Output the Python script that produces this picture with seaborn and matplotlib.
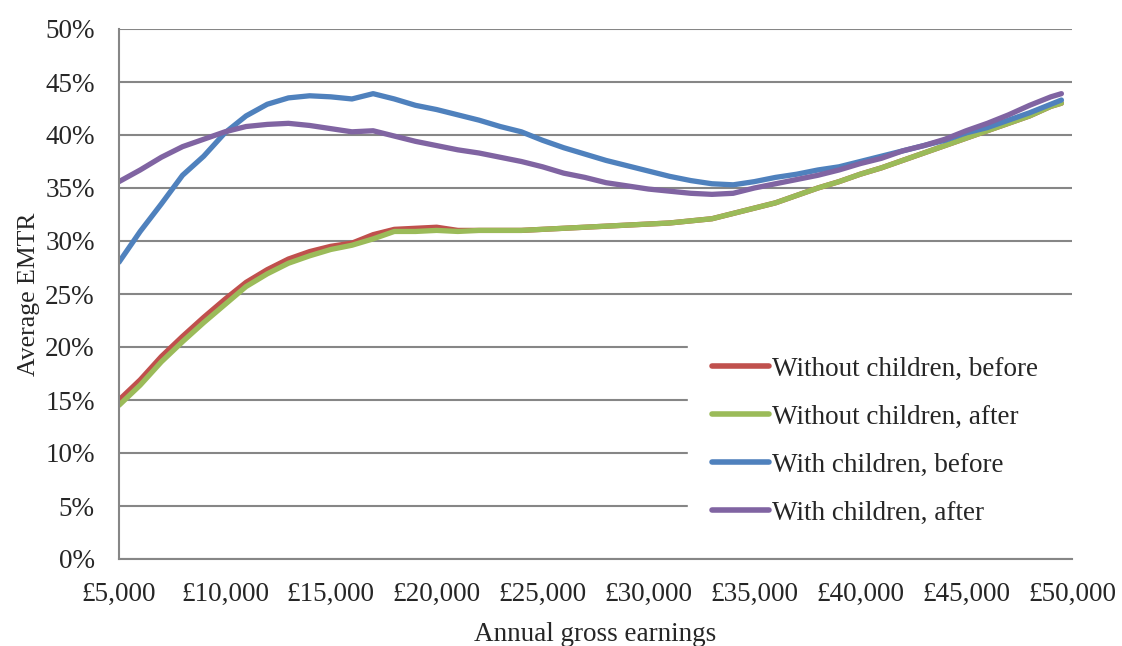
import numpy as np
import pandas as pd
import matplotlib
matplotlib.use('Agg')
import matplotlib.pyplot as plt
import matplotlib.ticker as mticker
import seaborn as sns

# ── Data ──────────────────────────────────────────────────────────
earnings = [5000, 6000, 7000, 8000, 9000, 10000, 11000, 12000, 13000, 14000,
            15000, 16000, 17000, 18000, 19000, 20000, 21000, 22000, 23000, 24000,
            25000, 26000, 27000, 28000, 29000, 30000, 31000, 32000, 33000, 34000,
            35000, 36000, 37000, 38000, 39000, 40000, 41000, 42000, 43000, 44000,
            45000, 46000, 47000, 48000, 49000, 49500]

without_before = [15.0, 16.9, 19.1, 21.0, 22.8, 24.5, 26.1, 27.3, 28.3, 29.0,
                  29.5, 29.8, 30.6, 31.1, 31.2, 31.3, 31.0, 31.0, 31.0, 31.0,
                  31.1, 31.2, 31.3, 31.4, 31.5, 31.6, 31.7, 31.9, 32.1, 32.6,
                  33.1, 33.6, 34.3, 35.0, 35.6, 36.3, 36.9, 37.6, 38.3, 39.0,
                  39.7, 40.4, 41.1, 41.8, 42.7, 43.0]

without_after = [14.5, 16.4, 18.6, 20.5, 22.3, 24.0, 25.7, 26.9, 27.9, 28.6,
                 29.2, 29.6, 30.2, 30.9, 30.9, 31.0, 30.9, 31.0, 31.0, 31.0,
                 31.1, 31.2, 31.3, 31.4, 31.5, 31.6, 31.7, 31.9, 32.1, 32.6,
                 33.1, 33.6, 34.3, 35.0, 35.6, 36.3, 36.9, 37.6, 38.3, 39.0,
                 39.7, 40.4, 41.1, 41.8, 42.7, 43.0]

with_before = [28.0, 30.9, 33.5, 36.2, 38.0, 40.2, 41.8, 42.9, 43.5, 43.7,
               43.6, 43.4, 43.9, 43.4, 42.8, 42.4, 41.9, 41.4, 40.8, 40.3,
               39.5, 38.8, 38.2, 37.6, 37.1, 36.6, 36.1, 35.7, 35.4, 35.3,
               35.6, 36.0, 36.3, 36.7, 37.0, 37.5, 38.0, 38.5, 39.0, 39.5,
               40.2, 40.7, 41.4, 42.1, 42.9, 43.3]

with_after = [35.6, 36.7, 37.9, 38.9, 39.6, 40.3, 40.8, 41.0, 41.1, 40.9,
              40.6, 40.3, 40.4, 39.9, 39.4, 39.0, 38.6, 38.3, 37.9, 37.5,
              37.0, 36.4, 36.0, 35.5, 35.2, 34.9, 34.7, 34.5, 34.4, 34.5,
              35.0, 35.4, 35.8, 36.2, 36.7, 37.3, 37.8, 38.5, 39.0, 39.6,
              40.4, 41.1, 41.9, 42.8, 43.6, 43.9]

series_names = ['Without children, before', 'Without children, after',
                'With children, before', 'With children, after']
series_values = [without_before, without_after, with_before, with_after]
colours = ['#C0504D', '#9BBB59', '#4F81BD', '#8064A2']

df = pd.concat([
    pd.DataFrame({'earnings': earnings, 'emtr': np.array(v) / 100, 'series': n})
    for n, v in zip(series_names, series_values)
], ignore_index=True)

# ── Style ─────────────────────────────────────────────────────────
sns.set_style('white')
plt.rcParams['font.family'] = ['Liberation Serif', 'DejaVu Serif']
GRID = '#868686'
FS = 19.5

fig = plt.figure(figsize=(11.22, 6.46), dpi=100)
ax = fig.add_axes([119 / 1122, 1 - 559 / 646, 953 / 1122, 530 / 646])

sns.lineplot(data=df, x='earnings', y='emtr', hue='series',
             hue_order=series_names, palette=colours, linewidth=3.8,
             ax=ax, legend=True)

ax.set_xlim(5000, 50000)
ax.set_ylim(0, 0.5)
ax.set_xticks(np.arange(5000, 50001, 5000))
ax.set_yticks(np.arange(0, 0.501, 0.05))
ax.xaxis.set_major_formatter(mticker.FuncFormatter(lambda v, p: f'£{v:,.0f}'))
ax.yaxis.set_major_formatter(mticker.FuncFormatter(lambda v, p: f'{v * 100:.0f}%'))

ax.grid(axis='y', color=GRID, linewidth=1.5)
ax.grid(axis='x', visible=False)
for side in ['top', 'right']:
    ax.spines[side].set_visible(False)
for side in ['left', 'bottom']:
    ax.spines[side].set_color(GRID)
    ax.spines[side].set_linewidth(1.5)
ax.tick_params(axis='both', which='major', direction='out', length=6.5,
               width=1.5, color=GRID, labelsize=FS, pad=11)
ax.tick_params(axis='x', pad=10)

ax.set_xlabel('Annual gross earnings', fontsize=FS, labelpad=11)
ax.set_ylabel('Average EMTR', fontsize=18.5, labelpad=4)

# legend box spans to the right edge of the plot, hiding the grid behind it
leg = ax.legend(loc='upper left', bbox_to_anchor=(0.597, 0.05, 0.403, 0.378),
                mode='expand', frameon=True, fancybox=False, framealpha=1,
                facecolor='white', edgecolor='white', fontsize=FS,
                handlelength=2.1, handletextpad=0.1, labelspacing=0.85,
                borderpad=0.9, borderaxespad=0)
for line in leg.get_lines():
    line.set_linewidth(4)

fig.savefig('out.png', dpi=100)
